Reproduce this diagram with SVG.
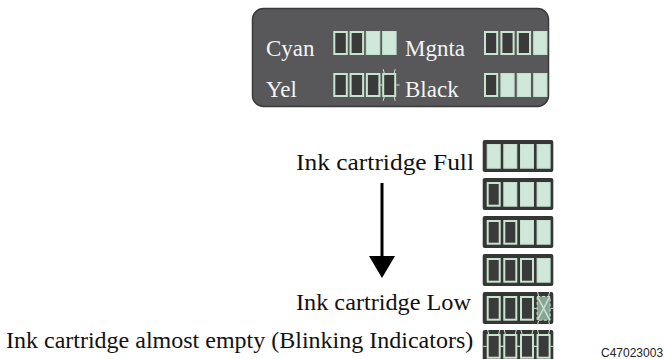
<svg xmlns="http://www.w3.org/2000/svg" xmlns:xlink="http://www.w3.org/1999/xlink" width="665" height="359" viewBox="0 0 665 359">
<style>
  .lbl { font-family: "Liberation Serif", "Times New Roman", serif; font-size: 24px; fill: #111; }
  .plbl { font-family: "Liberation Serif", "Times New Roman", serif; font-size: 23px; fill: #f4f4f4; }
  .code { font-family: "Liberation Sans", Arial, sans-serif; font-size: 12px; fill: #222; }
  .e { fill: #3a3a3a; stroke: #c6e4cf; stroke-width: 2; }
  .f { fill: #cfe8d9; stroke: #c3dfcd; stroke-width: 1; }
  .frame { fill: #363636; }
  .tick { stroke: #c6e4cf; stroke-width: 1; fill: none; }
</style>
<defs>
  <g id="blink">
    <rect class="e" x="1" y="1" width="12" height="22.7"/>
    <path class="tick" d="M2,0 L1,-4 M12,0 L13,-4 M2,24.7 L1,28.7 M12,24.7 L13,28.7 M0,12.35 L-3.5,12.35 M14,12.35 L17.5,12.35"/>
  </g>
  <g id="fade">
    <rect x="0.5" y="0.5" width="13" height="23.7" fill="#8aa394" stroke="#c6e4cf" stroke-width="1" stroke-dasharray="3 2"/>
    <path d="M1,1 L13,23.7 M13,1 L1,23.7" stroke="#c6e4cf" stroke-width="1.5" fill="none"/>
    <path class="tick" d="M2,0 L1,-4 M12,0 L13,-4 M2,24.7 L1,28.7 M12,24.7 L13,28.7 M0,12.35 L-3.5,12.35 M14,12.35 L17.5,12.35"/>
  </g>
</defs>

<g id="panel">
  <rect x="252.5" y="8.5" width="296" height="98" rx="11" fill="#58585a" stroke="#3a3a3a" stroke-width="1.5"/>
  <text class="plbl" x="266" y="56">Cyan</text>
  <text class="plbl" x="266" y="97">Yel</text>
  <text class="plbl" x="405" y="56">Mgnta</text>
  <text class="plbl" x="405" y="97">Black</text>
</g>

<g id="cyan-indicator">
  <rect class="e" x="334.3" y="32" width="12.5" height="22"/>
  <rect class="e" x="350.6" y="32" width="12.5" height="22"/>
  <rect class="f" x="366.3" y="31.5" width="13.5" height="23"/>
  <rect class="f" x="382.6" y="31.5" width="13.5" height="23"/>
</g>
<g id="yel-indicator">
  <rect class="e" x="334.3" y="74" width="12.5" height="22"/>
  <rect class="e" x="350.6" y="74" width="12.5" height="22"/>
  <rect class="e" x="366.9" y="74" width="12.5" height="22"/>
  <use xlink:href="#blink" transform="translate(382.2,73) scale(1,0.97)"/>
</g>
<g id="mgnta-indicator">
  <rect class="e" x="485" y="32" width="12.2" height="22"/>
  <rect class="e" x="501.4" y="32" width="12.2" height="22"/>
  <rect class="e" x="517.8" y="32" width="12.2" height="22"/>
  <rect class="f" x="533.7" y="31.5" width="13.2" height="23"/>
</g>
<g id="black-indicator">
  <rect class="e" x="485" y="74" width="12.2" height="22"/>
  <rect class="f" x="500.9" y="73.5" width="13.2" height="23"/>
  <rect class="f" x="517.3" y="73.5" width="13.2" height="23"/>
  <rect class="f" x="533.7" y="73.5" width="13.2" height="23"/>
</g>

<g id="level-full">
  <rect class="frame" x="482.7" y="140" width="70.6" height="32" rx="2"/>
  <rect class="f" x="487.2" y="144.5" width="13" height="23.7"/>
  <rect class="f" x="503.8" y="144.5" width="13" height="23.7"/>
  <rect class="f" x="520.5" y="144.5" width="13" height="23.7"/>
  <rect class="f" x="537.1" y="144.5" width="13" height="23.7"/>
</g>
<g id="level-3">
  <rect class="frame" x="482.7" y="178" width="70.6" height="32" rx="2"/>
  <rect class="e" x="487.7" y="183" width="12" height="22.7"/>
  <rect class="f" x="503.8" y="182.5" width="13" height="23.7"/>
  <rect class="f" x="520.5" y="182.5" width="13" height="23.7"/>
  <rect class="f" x="537.1" y="182.5" width="13" height="23.7"/>
</g>
<g id="level-2">
  <rect class="frame" x="482.7" y="216" width="70.6" height="32" rx="2"/>
  <rect class="e" x="487.7" y="221" width="12" height="22.7"/>
  <rect class="e" x="504.3" y="221" width="12" height="22.7"/>
  <rect class="f" x="520.5" y="220.5" width="13" height="23.7"/>
  <rect class="f" x="537.1" y="220.5" width="13" height="23.7"/>
</g>
<g id="level-1">
  <rect class="frame" x="482.7" y="254" width="70.6" height="32" rx="2"/>
  <rect class="e" x="487.7" y="259" width="12" height="22.7"/>
  <rect class="e" x="504.3" y="259" width="12" height="22.7"/>
  <rect class="e" x="521" y="259" width="12" height="22.7"/>
  <rect class="f" x="537.1" y="258.5" width="13" height="23.7"/>
</g>
<g id="level-low">
  <rect class="frame" x="482.7" y="292" width="70.6" height="32" rx="2"/>
  <rect class="e" x="487.7" y="297" width="12" height="22.7"/>
  <rect class="e" x="504.3" y="297" width="12" height="22.7"/>
  <rect class="e" x="521" y="297" width="12" height="22.7"/>
  <use xlink:href="#fade" transform="translate(536.6,296)"/>
</g>
<g id="level-empty">
  <rect class="frame" x="482.7" y="330" width="70.6" height="32" rx="2"/>
  <use xlink:href="#blink" transform="translate(486.7,334)"/>
  <use xlink:href="#blink" transform="translate(503.3,334)"/>
  <use xlink:href="#blink" transform="translate(520,334)"/>
  <use xlink:href="#blink" transform="translate(536.6,334)"/>
</g>

<g id="labels">
  <text class="lbl" x="296" y="170" textLength="178" lengthAdjust="spacingAndGlyphs">Ink cartridge Full</text>
  <text class="lbl" x="296" y="310" textLength="175" lengthAdjust="spacingAndGlyphs">Ink cartridge Low</text>
  <text class="lbl" x="6" y="348">Ink cartridge almost empty (Blinking Indicators)</text>
  <text class="code" x="601" y="357">C47023003</text>
</g>

<g id="connectors">
  <line x1="382" y1="183" x2="382" y2="258" stroke="#000" stroke-width="3"/>
  <polygon points="369,256 395,256 382,278" fill="#000"/>
</g>
</svg>
